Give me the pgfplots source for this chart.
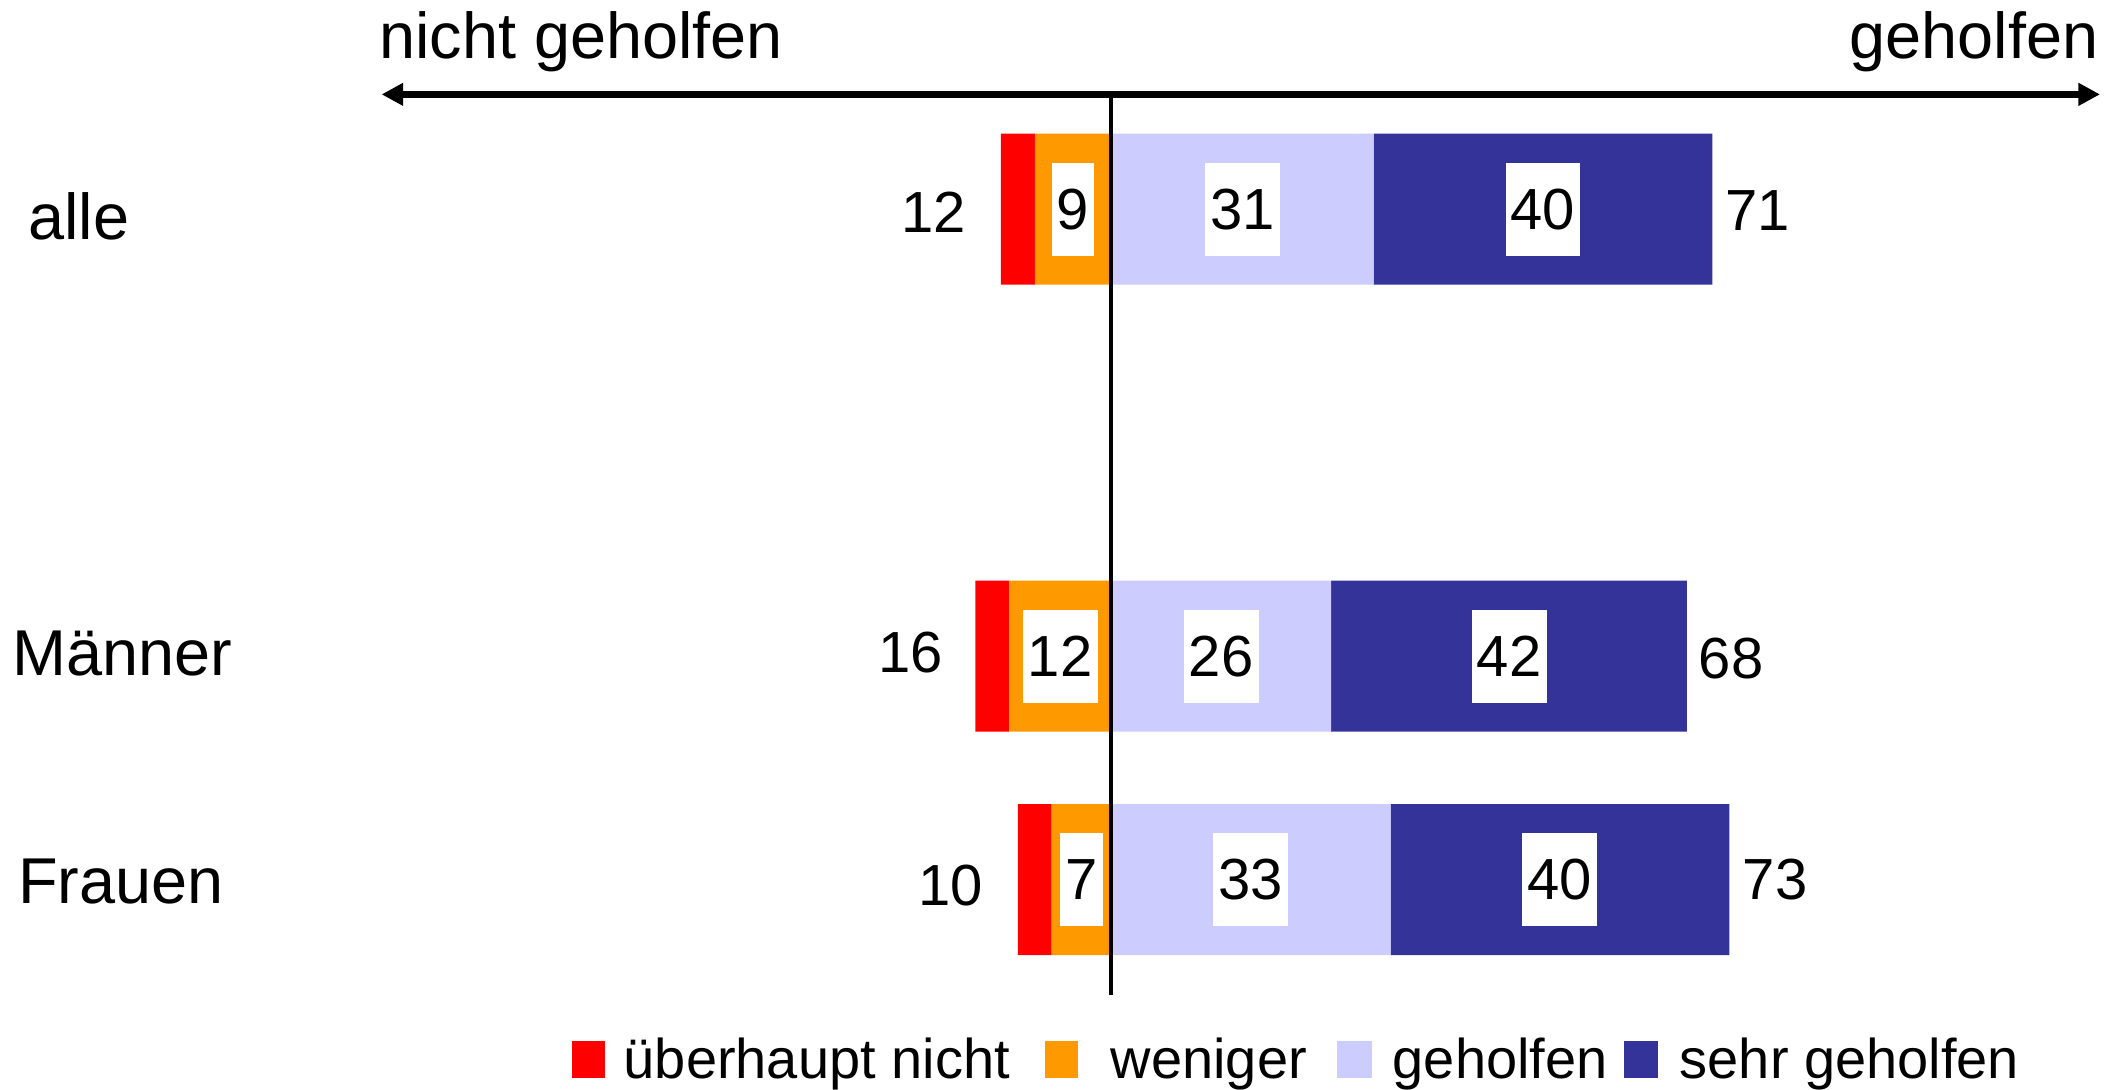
\documentclass[border=0pt]{standalone}
\usepackage{pgfplots}
\pgfplotsset{compat=1.18}
\usepackage{fontspec}
\setmainfont{Liberation Sans}
\usetikzlibrary{arrows.meta}
\definecolor{cRed}{HTML}{FF0000}
\definecolor{cOrange}{HTML}{FF9900}
\definecolor{cLight}{HTML}{CCCCFF}
\definecolor{cDark}{HTML}{333399}
\newcommand{\numfont}{\fontsize{14.5}{17}\selectfont}
\newcommand{\labfont}{\fontsize{16.2}{19}\selectfont}
\newcommand{\legfont}{\fontsize{14}{16}\selectfont}
\pgfplotsset{
  common/.style={
    at={(0,0)}, anchor=south west,
    width=528.5pt, height=272.5pt, scale only axis,
    xmin=-131.169, xmax=118.418, ymin=-0.9414, ymax=3.9356,
    hide axis, clip=false,
  }
}
\begin{document}
\begin{tikzpicture}
% bars (y: 3 = alle, 1 = Maenner, 0 = Frauen)
\begin{axis}[common, xbar stacked, bar width=0.6756]
  \addplot[fill=cOrange, draw=none] coordinates {(-9,3) (-12,1) (-7,0)};
  \addplot[fill=cRed, draw=none] coordinates {(-4,3) (-4,1) (-4,0)};
  \addplot[fill=cLight, draw=none] coordinates {(31,3) (26,1) (33,0)};
  \addplot[fill=cDark, draw=none] coordinates {(40,3) (42,1) (40,0)};
\end{axis}
% labels
\begin{axis}[common]
  \addplot[draw=none, mark=none,
    nodes near coords={\pgfplotspointmeta},
    point meta=explicit symbolic,
    nodes near coords align={center},
    every node near coord/.style={fill=white, inner xsep=1.3pt, inner ysep=0pt,
      minimum height=23.25pt, font=\numfont, text=black}]
    table[meta=lab] {
x y lab
-4.5 3 9
15.5 3 31
51 3 40
-6 1 12
13 1 26
47 1 42
-3.5 0 7
16.5 0 33
53 0 40
};
  \addplot[draw=none, mark=none,
    nodes near coords={\pgfplotspointmeta},
    point meta=explicit symbolic,
    nodes near coords align={center},
    every node near coord/.style={inner sep=0pt, font=\numfont, text=black}]
    table[meta=lab] {
x y lab
-20.9 2.988 12
76.3 2.992 71
-23.7 1.018 16
73.2 0.99 68
-18.9 -0.027 10
78.4 0 73
};
\end{axis}
% arrow axis and zero line
\draw[line width=1.8pt, {Triangle[length=5.4pt,width=5.4pt]}-{Triangle[length=5.4pt,width=5.4pt]}] (95.4pt,248.9pt) -- (525pt,248.9pt);
\draw[line width=1.15pt] (277.75pt,248.9pt) -- (277.75pt,23.75pt);
% top labels
\node[anchor=base west, inner sep=0pt, font=\labfont] at (94.6pt,257.8pt) {nicht geholfen};
\node[anchor=base east, inner sep=0pt, font=\labfont] at (524.8pt,257.8pt) {geholfen};
% category labels
\node[anchor=base west, inner sep=0pt, font=\labfont] at (6.9pt,212.7pt) {alle};
\node[anchor=base west, inner sep=0pt, font=\labfont] at (2.85pt,103.5pt) {Männer};
\node[anchor=base west, inner sep=0pt, font=\labfont] at (4.4pt,46.7pt) {Frauen};
% legend
\fill[cRed] (142.9pt,2.9pt) rectangle (151.25pt,12.3pt);
\fill[cOrange] (261.2pt,2.9pt) rectangle (269.5pt,12.3pt);
\fill[cLight] (334.25pt,2.9pt) rectangle (343pt,12.3pt);
\fill[cDark] (406pt,2.9pt) rectangle (414.5pt,12.3pt);
\node[anchor=base west, inner sep=0pt, font=\legfont] at (155.75pt,2.75pt) {überhaupt nicht};
\node[anchor=base west, inner sep=0pt, font=\legfont] at (277.5pt,2.75pt) {weniger};
\node[anchor=base west, inner sep=0pt, font=\legfont] at (348pt,2.75pt) {geholfen};
\node[anchor=base west, inner sep=0pt, font=\legfont] at (419.75pt,2.75pt) {sehr geholfen};
\pgfresetboundingbox
\path[use as bounding box] (0,0) rectangle (528.5pt,272.5pt);
\end{tikzpicture}
\end{document}
